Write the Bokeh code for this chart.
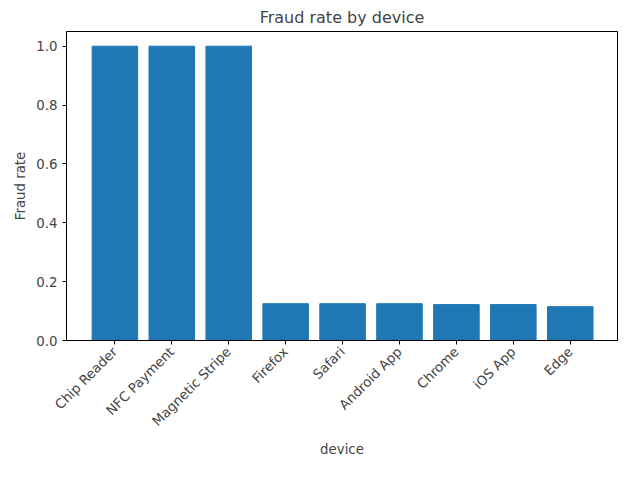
from bokeh.plotting import figure
from bokeh.models import FixedTicker, Range1d
from bokeh.embed import file_html
from bokeh.resources import INLINE
import math

devices = ["Chip Reader", "NFC Payment", "Magnetic Stripe", "Firefox", "Safari",
           "Android App", "Chrome", "iOS App", "Edge"]
fraud_rate = [1.0, 1.0, 1.0, 0.125, 0.125, 0.125, 0.122, 0.122, 0.115]
xs = list(range(len(devices)))

p = figure(width=624, height=464, output_backend="svg", toolbar_location=None,
           x_range=Range1d(-0.85, 8.83), y_range=Range1d(0, 1.05),
           title="Fraud rate by device", x_axis_label="device", y_axis_label="Fraud rate",
           min_border_left=66, min_border_right=7, min_border_top=29, min_border_bottom=124)
p.vbar(x=xs, top=fraud_rate, width=0.8, color="#1f77b4")

p.title.align = "center"
p.title.text_font = "DejaVu Sans"
p.title.text_font_size = "12pt"
p.title.text_font_style = "normal"
p.grid.visible = False
p.outline_line_color = "black"

p.xaxis.ticker = FixedTicker(ticks=xs)
p.xaxis.major_label_overrides = {i: d for i, d in enumerate(devices)}
p.xaxis.major_label_orientation = math.pi / 4
p.yaxis.ticker = FixedTicker(ticks=[0, 0.2, 0.4, 0.6, 0.8, 1.0])
p.yaxis.major_label_overrides = {0: "0.0", 0.2: "0.2", 0.4: "0.4", 0.6: "0.6", 0.8: "0.8", 1.0: "1.0"}
for ax in (p.xaxis, p.yaxis):
    ax.minor_tick_line_color = None
    ax.major_label_text_font = "DejaVu Sans"
    ax.major_label_text_font_size = "10pt"
    ax.axis_label_text_font = "DejaVu Sans"
    ax.axis_label_text_font_size = "10pt"
    ax.axis_label_text_font_style = "normal"
    ax.major_tick_out = 4
    ax.major_tick_in = 0
    ax.axis_line_color = "black"

open("out.html", "w").write(file_html(p, INLINE))
